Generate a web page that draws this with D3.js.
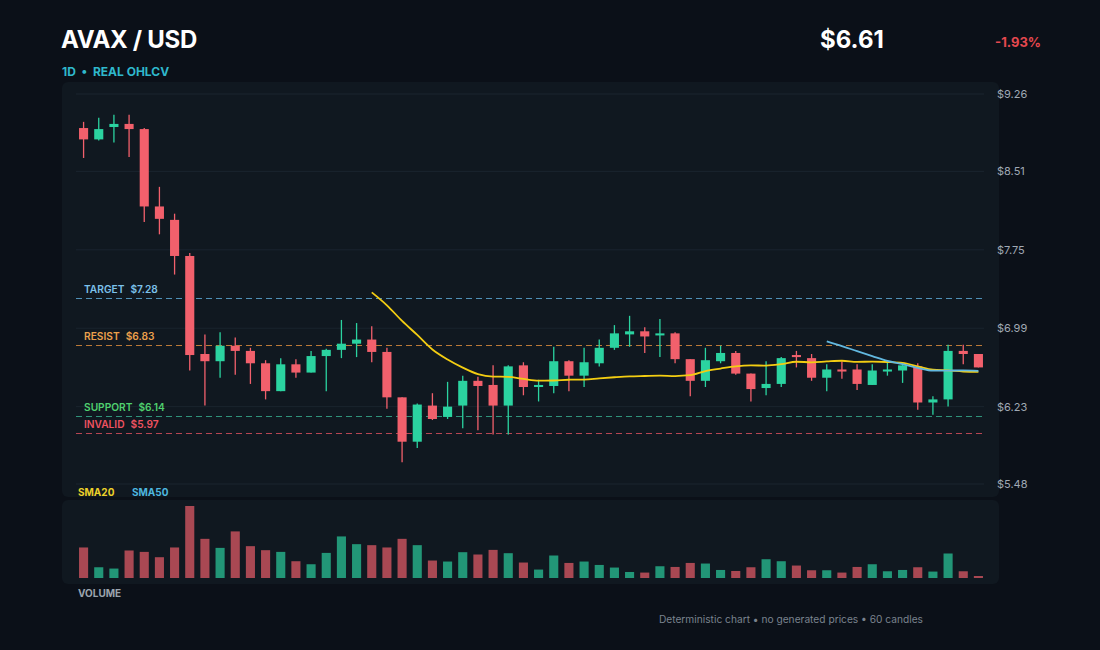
<!DOCTYPE html>
<html>
<head>
<meta charset="utf-8">
<script src="https://cdn.jsdelivr.net/npm/d3@7"></script>
<style>
  html, body { margin: 0; padding: 0; background: #0b1018; }
  svg { display: block; font-family: Inter, "Noto Sans", sans-serif; }
</style>
</head>
<body>
<svg id="chart" width="1100" height="650"></svg>
<script>
// --- data (60 daily candles) ---
var opens = [8.93, 8.82, 8.94, 8.97, 8.92, 8.17, 8.04, 7.69, 6.74, 6.67,
             6.82, 6.77, 6.65, 6.38, 6.64, 6.56, 6.72, 6.78, 6.84, 6.88,
             6.76, 6.32, 5.89, 6.24, 6.13, 6.24, 6.48, 6.44, 6.24, 6.63,
             6.42, 6.43, 6.67, 6.53, 6.65, 6.80, 6.93, 6.96, 6.92, 6.94,
             6.69, 6.48, 6.67, 6.75, 6.55, 6.41, 6.45, 6.73, 6.70, 6.51,
             6.59, 6.59, 6.44, 6.57, 6.58, 6.62, 6.27, 6.30, 6.77, 6.74];
var highs = [8.99, 9.03, 9.06, 9.06, 8.93, 8.36, 8.10, 7.72, 6.93, 6.95,
             6.90, 6.80, 6.68, 6.70, 6.69, 6.77, 6.79, 7.07, 7.04, 7.01,
             6.80, 6.32, 6.26, 6.36, 6.47, 6.53, 6.52, 6.63, 6.63, 6.66,
             6.49, 6.81, 6.68, 6.80, 6.88, 7.02, 7.11, 7.00, 7.08, 6.95,
             6.69, 6.80, 6.82, 6.77, 6.55, 6.67, 6.71, 6.77, 6.74, 6.64,
             6.67, 6.64, 6.64, 6.67, 6.66, 6.65, 6.33, 6.83, 6.83, 6.74];
var lows = [8.64, 8.81, 8.79, 8.65, 8.02, 7.90, 7.51, 6.58, 6.24, 6.51,
            6.54, 6.45, 6.30, 6.38, 6.51, 6.56, 6.38, 6.70, 6.71, 6.66,
            6.21, 5.69, 5.83, 6.10, 6.11, 6.02, 6.00, 5.96, 5.96, 6.34,
            6.28, 6.36, 6.38, 6.42, 6.62, 6.78, 6.81, 6.75, 6.71, 6.65,
            6.33, 6.42, 6.65, 6.54, 6.28, 6.34, 6.42, 6.61, 6.48, 6.38,
            6.50, 6.39, 6.44, 6.53, 6.46, 6.20, 6.15, 6.23, 6.64, 6.61];
var closes = [8.82, 8.92, 8.97, 8.92, 8.17, 8.05, 7.69, 6.73, 6.67, 6.82,
              6.77, 6.65, 6.38, 6.64, 6.56, 6.72, 6.78, 6.84, 6.88, 6.76,
              6.32, 5.89, 6.25, 6.11, 6.23, 6.48, 6.43, 6.24, 6.62, 6.42,
              6.44, 6.67, 6.53, 6.66, 6.80, 6.94, 6.96, 6.91, 6.94, 6.69,
              6.48, 6.68, 6.75, 6.55, 6.40, 6.45, 6.70, 6.71, 6.51, 6.59,
              6.57, 6.45, 6.58, 6.59, 6.63, 6.27, 6.30, 6.77, 6.74, 6.61];
// volume, millions
var volumes = [3.04, 1.07, 0.94, 2.74, 2.60, 2.07, 3.04, 7.17, 3.90, 3.00,
               4.64, 3.17, 2.77, 2.60, 1.67, 1.37, 2.50, 4.14, 3.37, 3.27,
               3.04, 3.90, 3.27, 1.74, 1.64, 2.57, 2.34, 2.80, 2.47, 1.54,
               0.84, 2.24, 1.50, 1.64, 1.30, 1.04, 0.60, 0.54, 1.17, 1.10,
               1.50, 1.44, 0.80, 0.70, 1.07, 1.87, 1.67, 1.24, 0.77, 0.77,
               0.54, 1.10, 1.37, 0.67, 0.80, 1.07, 0.64, 2.44, 0.67, 0.20];

var priceTicks = [9.26, 8.51, 7.75, 6.99, 6.23, 5.48];
var levelNames = ["TARGET", "RESIST", "SUPPORT", "INVALID"];
var levelValues = [7.28, 6.83, 6.14, 5.97];

// --- styles ---
var UP = "#2bd3a0", DOWN = "#f2606c";
var levelLine = ["#5aa6d2", "#d98a3c", "#35a98a", "#d44e5c"];
var levelText = ["#7cc1ea", "#eba04c", "#4fcf6e", "#ee5261"];

var svg = d3.select("#chart");
var n = closes.length;

// panels
svg.append("rect").attr("x", 62).attr("y", 82).attr("width", 937).attr("height", 415)
    .attr("rx", 6).attr("fill", "#101820");
svg.append("rect").attr("x", 62).attr("y", 500).attr("width", 937).attr("height", 84)
    .attr("rx", 6).attr("fill", "#101820");

// scales
var x = d3.scalePoint().domain(d3.range(n)).range([76, 986]).padding(0.5);
var bodyW = x.step() * 0.6;
var y = d3.scaleLinear().domain([5.48, 9.26]).range([484, 94]);
var yv = d3.scaleLinear().domain([0, d3.max(volumes)]).range([578, 506]);

// grid + right axis
var axis = d3.axisRight(y).tickValues(priceTicks)
    .tickFormat(function (d) { return "$" + d.toFixed(2); })
    .tickSize(0).tickPadding(0);
var gAxis = svg.append("g").attr("transform", "translate(997,0)").call(axis);
gAxis.select(".domain").remove();
gAxis.selectAll("text").attr("fill", "#a0a9b4").attr("font-size", 11)
    .attr("font-family", "Inter, sans-serif");

svg.append("g").selectAll("line").data(priceTicks).enter().append("line")
    .attr("x1", 76).attr("x2", 984)
    .attr("y1", function (d) { return y(d); }).attr("y2", function (d) { return y(d); })
    .attr("stroke", "#1a242e").attr("stroke-width", 1);

// level lines
var gLev = svg.append("g");
levelValues.forEach(function (v, i) {
    var yy = Math.round(y(v)) + 0.5;
    gLev.append("line").attr("x1", 76).attr("x2", 984).attr("y1", yy).attr("y2", yy)
        .attr("stroke", levelLine[i]).attr("stroke-width", 1)
        .attr("stroke-dasharray", "6,4").attr("opacity", 0.85);
    var t = gLev.append("text").attr("x", 84).attr("y", yy - 5.5)
        .attr("fill", levelText[i]).attr("font-size", 10.2).attr("font-weight", 600);
    t.append("tspan").text(levelNames[i]);
    t.append("tspan").attr("dx", 6).text("$" + v.toFixed(2));
});

// candles
var candles = svg.append("g").selectAll("g").data(d3.range(n)).enter().append("g");
candles.append("line")
    .attr("x1", function (i) { return x(i); }).attr("x2", function (i) { return x(i); })
    .attr("y1", function (i) { return y(highs[i]); })
    .attr("y2", function (i) { return y(lows[i]); })
    .attr("stroke", function (i) { return closes[i] >= opens[i] ? UP : DOWN; })
    .attr("stroke-width", 1.3);
candles.append("rect")
    .attr("x", function (i) { return x(i) - bodyW / 2; })
    .attr("width", bodyW)
    .attr("y", function (i) { return y(Math.max(opens[i], closes[i])); })
    .attr("height", function (i) { return Math.max(1.5, Math.abs(y(opens[i]) - y(closes[i]))); })
    .attr("fill", function (i) { return closes[i] >= opens[i] ? UP : DOWN; });

// moving averages of the closes
function sma(len) {
    var out = [];
    for (var i = len - 1; i < n; i++) {
        out.push({ i: i, v: d3.mean(closes.slice(i - len + 1, i + 1)) });
    }
    return out;
}
var line = d3.line().x(function (d) { return x(d.i); }).y(function (d) { return y(d.v); })
    .curve(d3.curveMonotoneX);
svg.append("path").datum(sma(20)).attr("d", line).attr("fill", "none")
    .attr("stroke", "#f3cd12").attr("stroke-width", 1.8);
svg.append("path").datum(sma(50)).attr("d", line).attr("fill", "none")
    .attr("stroke", "#62b8e0").attr("stroke-width", 1.8);

// legend
svg.append("text").attr("x", 78).attr("y", 496).text("SMA20")
    .attr("fill", "#ecd02a").attr("font-size", 10).attr("font-weight", 700);
svg.append("text").attr("x", 132).attr("y", 496).text("SMA50")
    .attr("fill", "#4db6df").attr("font-size", 10).attr("font-weight", 700);

// volume
svg.append("g").selectAll("rect").data(d3.range(n)).enter().append("rect")
    .attr("x", function (i) { return x(i) - bodyW / 2; })
    .attr("width", bodyW)
    .attr("y", function (i) { return yv(volumes[i]); })
    .attr("height", function (i) { return yv(0) - yv(volumes[i]); })
    .attr("fill", function (i) { return closes[i] >= opens[i] ? UP : DOWN; })
    .attr("opacity", 0.68);
svg.append("text").attr("x", 78).attr("y", 597).text("VOLUME")
    .attr("fill", "#9ba4ae").attr("font-size", 10).attr("font-weight", 700);

// header
var last = closes[n - 1], prev = closes[n - 2];
var chg = (last / prev - 1) * 100;
svg.append("text").attr("x", 61).attr("y", 48).text("AVAX / USD")
    .attr("fill", "#ffffff").attr("font-size", 24).attr("font-weight", 700)
    .attr("letter-spacing", -0.3);
svg.append("text").attr("x", 62).attr("y", 76)
    .attr("fill", "#2fb8cc").attr("font-size", 12).attr("font-weight", 700)
    .text("1D  \u2022  REAL OHLCV").attr("style", "white-space:pre");
svg.append("text").attr("x", 820).attr("y", 48).text("$" + last.toFixed(2))
    .attr("fill", "#ffffff").attr("font-size", 24).attr("font-weight", 700);
svg.append("text").attr("x", 1041).attr("y", 47).attr("text-anchor", "end")
    .text((chg >= 0 ? "+" : "") + chg.toFixed(2) + "%")
    .attr("fill", "#e5484f").attr("font-size", 13).attr("font-weight", 700);

// footer
svg.append("text").attr("x", 923).attr("y", 623).attr("text-anchor", "end")
    .text("Deterministic chart \u2022 no generated prices \u2022 " + n + " candles")
    .attr("fill", "#7a838e").attr("font-size", 10.2);
</script>
</body>
</html>
